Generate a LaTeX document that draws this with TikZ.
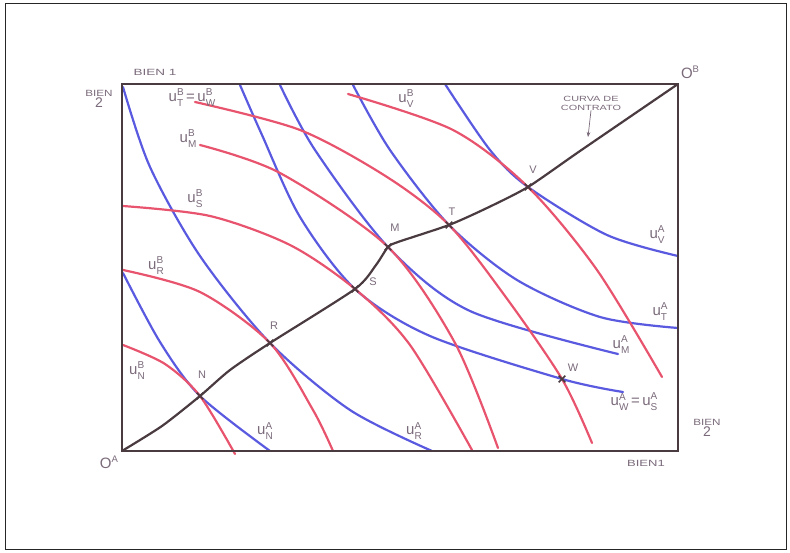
\documentclass[tikz,border=0pt]{standalone}
\usepackage{graphicx}
\usepackage{fontspec}
\setmainfont{Liberation Sans}
\setsansfont{Liberation Sans}
\usetikzlibrary{arrows.meta,shapes.misc}
\definecolor{acol}{HTML}{5A5AE0}
\definecolor{bcol}{HTML}{E8546E}
\definecolor{framecol}{HTML}{4A3B40}
\definecolor{txtcol}{HTML}{7A6A7A}
\newcommand{\ulab}[2]{u\raisebox{-5.5pt}{\fontsize{10}{10}\selectfont\shortstack[l]{#1\\[1pt]#2}}}
\newcommand{\widetxt}[2][1.4]{\scalebox{#1}[1]{#2}}
\begin{document}
\begin{tikzpicture}[x=1pt,y=-1pt,
  acurve/.style={acol,line width=2.2pt,line cap=round},
  bcurve/.style={bcol,line width=2.2pt,line cap=round},
  boxline/.style={framecol,line width=2.4pt},
  ccurve/.style={framecol,line width=2.2pt,line join=round},
  plbl/.style={txtcol,font=\fontsize{11}{12}\selectfont,inner sep=0pt},
  lbl/.style={txtcol,font=\fontsize{15}{16}\selectfont,inner sep=0pt},
  small/.style={txtcol,font=\fontsize{9}{10}\selectfont,inner sep=0pt,align=center},
  tiny/.style={txtcol,font=\fontsize{7.5}{9}\selectfont,inner sep=0pt,align=center},
  ptmark/.style={draw=framecol,cross out,minimum size=5pt,inner sep=0pt,line width=1.6pt}]
\useasboundingbox (0,0) rectangle (790,553);
\draw[black!85,line width=1pt] (5,4) rectangle (786,549);

% corners and points
\coordinate (OA) at (122,451);
\coordinate (OB) at (678,84);
\coordinate (N) at (200,396);
\coordinate (R) at (270,343);
\coordinate (S) at (355,289);
\coordinate (M) at (388,247);
\coordinate (T) at (449,225);
\coordinate (V) at (528,187);
\coordinate (W) at (562,379);

% blue curves (A)
\draw[acurve] plot[smooth] coordinates {(123,273) (160,342) (N) (270,451)};
\draw[acurve] plot[smooth] coordinates {(123,87) (150,167) (200,256) (R) (350,410) (432,451)};
\draw[acurve] plot[smooth] coordinates {(240,85) (262,135) (300,217) (S) (430,336) (W) (623,392)};
\draw[acurve] plot[smooth] coordinates {(280,85) (315,150) (M) (470,311) (618,354)};
\draw[acurve] plot[smooth] coordinates {(353,85) (390,150) (T) (517,280) (600,317) (678,328)};
\draw[acurve] plot[smooth] coordinates {(445,84) (490,150) (V) (607,235) (678,256)};

% red curves (B)
\draw[bcurve] plot[smooth] coordinates {(123,345) (165,364) (N) (235,454)};
\draw[bcurve] plot[smooth] coordinates {(123,270) (200,292) (R) (313,410) (333,451)};
\draw[bcurve] plot[smooth] coordinates {(123,206) (210,216) (290,245) (S) (410,345) (472,450)};
\draw[bcurve] plot[smooth] coordinates {(200,145) (280,173) (M) (455,343) (498,448)};
\draw[bcurve] plot[smooth] coordinates {(195,102) (300,130) (387,177) (T) (505,296) (W) (592,443)};
\draw[bcurve] plot[smooth] coordinates {(348,94) (453,130) (V) (597,270) (662,377)};

% box
\draw[boxline] (OA) rectangle (OB);

% contract curve
\draw[ccurve] plot[smooth,tension=0.4] coordinates {(OA) (162,426) (N) (230,370) (R) (S) (376,265) (M) (398,242) (T) (487,208) (V) (580,151) (OB)};

% point marks
\foreach \p in {N,R,S,M,T,V,W} \node[ptmark] at (\p) {};

% point labels
\node[plbl] at (202,375) {N};
\node[plbl] at (274,326) {R};
\node[plbl] at (373,282) {S};
\node[plbl] at (395,228) {M};
\node[plbl] at (452,212) {T};
\node[plbl] at (533,170) {V};
\node[plbl] at (573,368) {W};

% axis labels
\node[small] (b1t) at (155,72) {\widetxt[1.5]{BIEN 1}};
\node[small] (b2l) at (99,99) {\widetxt[1.3]{BIEN}\\[1pt]{\fontsize{14}{15}\selectfont 2}};
\node[small] (b2r) at (707,428) {\widetxt[1.3]{BIEN}\\[1pt]{\fontsize{14}{15}\selectfont 2}};
\node[small] (b1b) at (646,463) {\widetxt[1.45]{BIEN1}};
\node[lbl] (oa) at (109,462) {O\raisebox{6pt}{\fontsize{9.5}{10}\selectfont A}};
\node[lbl] (ob) at (690,72) {O\raisebox{6pt}{\fontsize{9.5}{10}\selectfont B}};

% curve labels
\node[lbl] at (192,98) {\ulab{B}{T}\,=\,\ulab{B}{W}};
\node[lbl] at (188,139) {\ulab{B}{M}};
\node[lbl] at (195,199) {\ulab{B}{S}};
\node[lbl] at (156,266) {\ulab{B}{R}};
\node[lbl] at (137,371) {\ulab{B}{N}};
\node[lbl] at (406,99) {\ulab{B}{V}};
\node[lbl] at (657,235) {\ulab{A}{V}};
\node[lbl] at (660,312) {\ulab{A}{T}};
\node[lbl] at (621,345) {\ulab{A}{M}};
\node[lbl] at (634,402) {\ulab{A}{W}\,=\,\ulab{A}{S}};
\node[lbl] at (265,431) {\ulab{A}{N}};
\node[lbl] at (414,431) {\ulab{A}{R}};

% contract curve label
\node[tiny] (cc) at (591,103) {\widetxt[1.45]{CURVA DE}\\\widetxt[1.45]{CONTRATO}};
\coordinate (ccpt) at (588,137);
\draw[txtcol,line width=0.7pt,-{Stealth[length=5pt]}] (cc.south) -- (ccpt);
\end{tikzpicture}
\end{document}
